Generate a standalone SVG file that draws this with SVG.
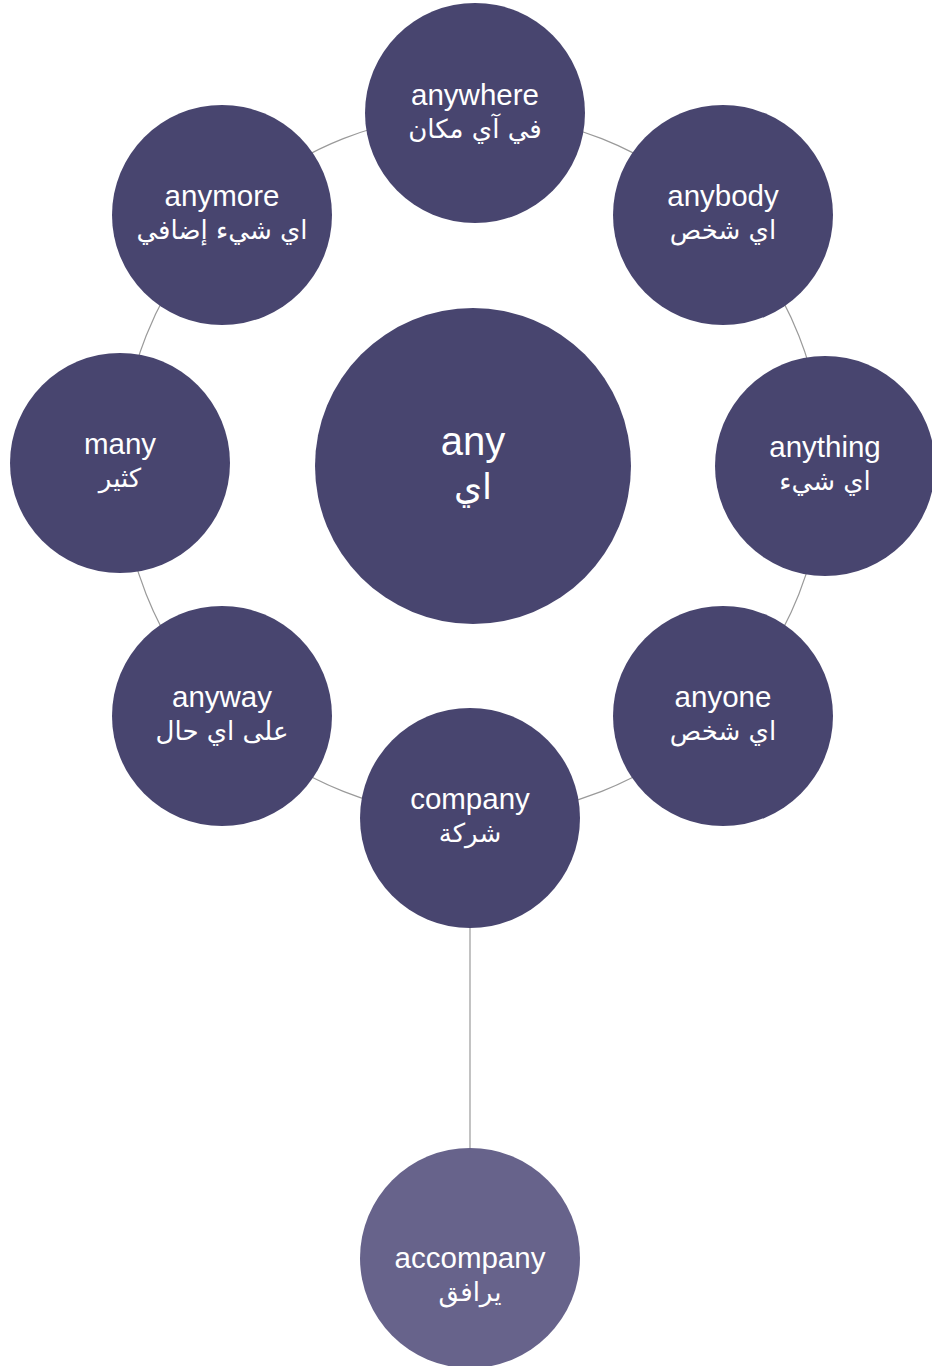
<svg xmlns="http://www.w3.org/2000/svg" width="932" height="1366" viewBox="0 0 932 1366">
<style>
.node{fill:#48456f}
.light{fill:#67638b}
.t{font-family:"Liberation Sans","DejaVu Sans",Arial,sans-serif;fill:#ffffff;text-anchor:middle;font-size:29.5px}
.ar{font-family:"DejaVu Sans","Noto Sans",sans-serif;fill:#ffffff;text-anchor:middle;font-size:26px}
.big{font-size:40px}
.arbig{font-size:36px}
.conn{fill:none;stroke:#9a9a9a;stroke-width:1.2}
</style>
<rect width="932" height="1366" fill="#ffffff"/>
<g id="connectors">
<circle class="conn" cx="472.5" cy="465" r="351"/>
<line class="conn" x1="470" y1="928" x2="470" y2="1148"/>
</g>
<g id="node-any">
<circle class="node" cx="473" cy="466" r="158"/>
<text class="t big" x="473" y="455">any</text>
<text class="ar arbig" x="473" y="499" direction="rtl">اي</text>
</g>
<g id="node-anywhere">
<circle class="node" cx="475" cy="113" r="110"/>
<text class="t" x="475" y="105">anywhere</text>
<text class="ar" x="475" y="138" direction="rtl">في آي مكان</text>
</g>
<g id="node-anybody">
<circle class="node" cx="723" cy="215" r="110"/>
<text class="t" x="723" y="206">anybody</text>
<text class="ar" x="723" y="239" direction="rtl">اي شخص</text>
</g>
<g id="node-anything">
<circle class="node" cx="825" cy="466" r="110"/>
<text class="t" x="825" y="457">anything</text>
<text class="ar" x="825" y="490" direction="rtl">اي شيء</text>
</g>
<g id="node-anyone">
<circle class="node" cx="723" cy="716" r="110"/>
<text class="t" x="723" y="707">anyone</text>
<text class="ar" x="723" y="740" direction="rtl">اي شخص</text>
</g>
<g id="node-company">
<circle class="node" cx="470" cy="818" r="110"/>
<text class="t" x="470" y="809">company</text>
<text class="ar" x="470" y="842" direction="rtl">شركة</text>
</g>
<g id="node-anyway">
<circle class="node" cx="222" cy="716" r="110"/>
<text class="t" x="222" y="707">anyway</text>
<text class="ar" x="222" y="740" direction="rtl">على اي حال</text>
</g>
<g id="node-many">
<circle class="node" cx="120" cy="463" r="110"/>
<text class="t" x="120" y="454">many</text>
<text class="ar" x="120" y="487" direction="rtl">كثير</text>
</g>
<g id="node-anymore">
<circle class="node" cx="222" cy="215" r="110"/>
<text class="t" x="222" y="206">anymore</text>
<text class="ar" x="222" y="239" direction="rtl">اي شيء إضافي</text>
</g>
<g id="node-accompany">
<circle class="light" cx="470" cy="1258" r="110"/>
<text class="t" x="470" y="1268">accompany</text>
<text class="ar" x="470" y="1301" direction="rtl">يرافق</text>
</g>
</svg>
